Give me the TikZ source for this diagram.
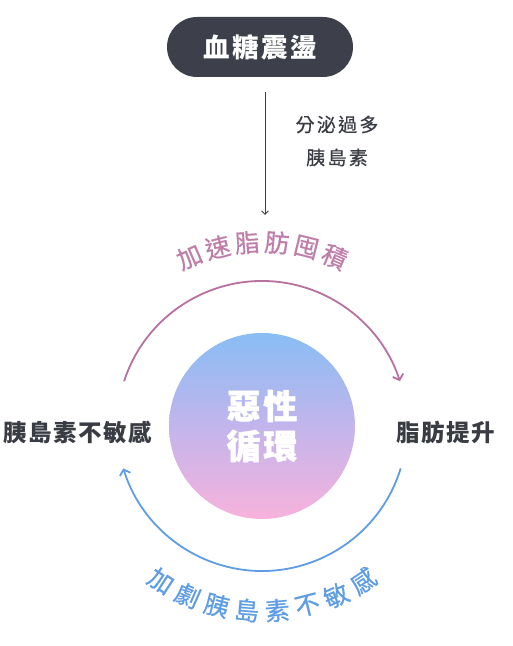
\documentclass[tikz,border=0pt]{standalone}
\usepackage{fontspec}
\setmainfont{Noto Sans CJK TC}
\usetikzlibrary{arrows.meta}
\definecolor{pillgray}{HTML}{3D404A}
\definecolor{ink}{HTML}{3A3C44}
\definecolor{topink}{HTML}{B8709F}
\definecolor{botblue}{HTML}{5E9DE3}
\definecolor{cblue}{HTML}{88BDF4}
\definecolor{cpurple}{HTML}{C2B5EC}
\definecolor{cpink}{HTML}{F7B2DC}
\newcommand{\fsz}[1]{\fontsize{#1}{#1}\selectfont}

\begin{document}
\begin{tikzpicture}[x=1pt,y=1pt,line width=1.8pt,
  lab/.style={text=ink,font=\bfseries\fsz{23.5}\addfontfeatures{LetterSpace=6}},
  arctxt/.style={font=\fsz{25}\addfontfeatures{FakeBold=0.6},inner sep=0pt},
  tip/.style={-{Straight Barb[length=5pt,width=11pt]}}]
 \useasboundingbox (0,0) rectangle (513,646);
 \node[fill=pillgray,rounded corners=30pt,minimum width=186pt,minimum height=60pt,
   text=white,font=\bfseries\fsz{26.5}\addfontfeatures{LetterSpace=9}] (blood) at (260,599) {血糖震盪};
 \coordinate (up) at (265,554);
 \coordinate (down) at (265,431);
 \draw[line width=0.9pt,ink,-{Straight Barb[length=3.5pt,width=7pt]}] (up) -- (down);
 \node[text=ink,align=center,font=\fontsize{19}{33}\selectfont\addfontfeatures{LetterSpace=12,FakeBold=0.5}] (secrete) at (337,505) {分泌過多\\胰島素};
 % the loop in the middle
 \node[circle,minimum size=186pt,inner sep=0pt,top color=cblue,bottom color=cpink,middle color=cpurple,
   text=white,align=center,font=\bfseries\fontsize{34}{40}\selectfont\addfontfeatures{LetterSpace=8,FakeBold=1.5}] (loop) at (262,220) {惡性\\循環};
 \node[lab] (insul) at (78,214) {胰島素不敏感};
 \node[lab] (fat) at (446,214) {脂肪提升};
 \coordinate (tl) at ([shift={(162:145)}]loop.center);
 \coordinate (br) at ([shift={(-17:145)}]loop.center);
 \draw[topink,tip] (tl) arc[start angle=162,end angle=18,radius=145];
 \draw[botblue,tip] (br) arc[start angle=-17,end angle=-163,radius=145];
 \foreach \ch [count=\i,evaluate=\i as \a using 113.25-9.3*(\i-1)] in {加,速,脂,肪,囤,積}
   \node[arctxt,text=topink!90!white,rotate=\a-90] (top\i) at ([shift={(\a:184)}]loop.center) {\ch};
 \foreach \ch [count=\i,evaluate=\i as \a using 236.9+9.46*(\i-1)] in {加,劇,胰,島,素,不,敏,感}
   \node[arctxt,text=botblue,rotate=\a+90] (bot\i) at ([shift={(\a:185)}]loop.center) {\ch};
\end{tikzpicture}
\end{document}
